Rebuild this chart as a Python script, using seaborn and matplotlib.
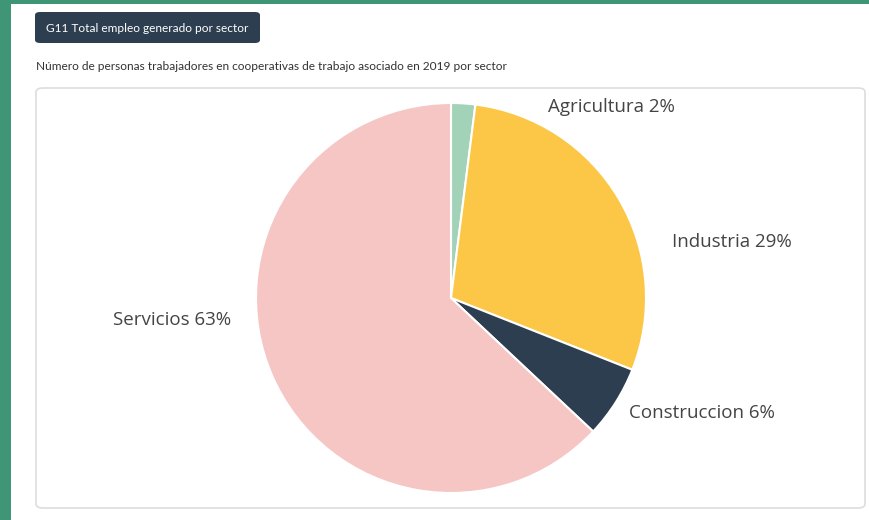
import matplotlib
matplotlib.use("Agg")
import matplotlib.pyplot as plt
import seaborn as sns
from matplotlib.patches import FancyBboxPatch, Rectangle

# datos del grafico
sectores = ["Agricultura", "Industria", "Construccion", "Servicios"]
porcentajes = [2, 29, 6, 63]
colores = ["#a2d3b8", "#fcc746", "#2c3e50", "#f6c6c4"]

titulo_boton = "G11 Total empleo generado por sector"
subtitulo = "Número de personas trabajadores en cooperativas de trabajo asociado en 2019 por sector"

W, H = 869, 520

sns.set_theme(style="white")
plt.rcParams['font.family'] = ['Open Sans', 'DejaVu Sans']

fig = plt.figure(figsize=(W / 100, H / 100), dpi=100)
fig.patch.set_facecolor("white")


def px(x, y):
    # pixeles -> coordenadas de figura
    return x / W, 1 - y / H


# marco verde
fig.patches.append(Rectangle((0, 0), 11 / W, 1, transform=fig.transFigure,
                             facecolor="#3f9677", edgecolor="none", zorder=0))
fig.patches.append(Rectangle((0, 1 - 4 / H), 1, 4 / H, transform=fig.transFigure,
                             facecolor="#3f9677", edgecolor="none", zorder=0))

# boton del titulo
bx, by = px(35, 43)
fig.patches.append(FancyBboxPatch((bx, by), 225 / W, 31 / H,
                                  boxstyle="round,pad=0,rounding_size=0.006",
                                  transform=fig.transFigure,
                                  facecolor="#2c3e50", edgecolor="none", zorder=0))
fig.text(*px(147, 28), titulo_boton, color="white", fontsize=8.6,
         family=['Lato', 'DejaVu Sans'], ha="center", va="center")

fig.text(*px(36, 67), subtitulo, color="#333333", fontsize=8.6,
         family=['Lato', 'DejaVu Sans'], ha="left", va="center")

# panel
qx, qy = px(36, 508)
fig.patches.append(FancyBboxPatch((qx, qy), 829 / W, 420 / H,
                                  boxstyle="round,pad=0,rounding_size=0.008",
                                  transform=fig.transFigure,
                                  facecolor="white", edgecolor="#dddddd",
                                  linewidth=1.2, zorder=0))

# pastel
cx, cy, r = 451, 298, 195
ax = fig.add_axes([(cx - r) / W, (H - cy - r) / H, 2 * r / W, 2 * r / H])
ax.set_zorder(2)
ax.patch.set_alpha(0)
ax.pie(porcentajes, colors=colores, startangle=90, counterclock=False,
       wedgeprops=dict(edgecolor="white", linewidth=1.5))
ax.set_xlim(-1, 1)
ax.set_ylim(-1, 1)
ax.set_aspect("equal")
ax.axis("off")

# etiquetas
pos_etiquetas = [(548, 107, "left"), (672, 242, "left"),
                 (629, 413, "left"), (231, 320, "right")]
for (x, y, ha), nombre, p in zip(pos_etiquetas, sectores, porcentajes):
    fig.text(*px(x, y), f"{nombre} {p}%", color="#444444", fontsize=13.5,
             ha=ha, va="center")

fig.savefig("out.png", dpi=100)
plt.close()
